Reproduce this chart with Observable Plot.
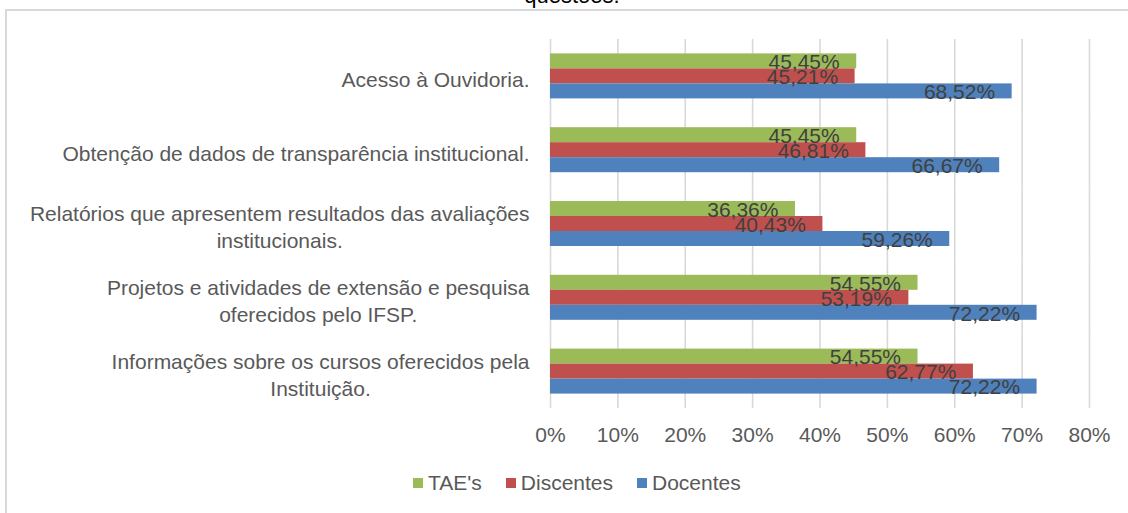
<!DOCTYPE html>
<html><head><meta charset="utf-8">
<script src="https://cdn.jsdelivr.net/npm/d3@7"></script>
<script src="https://cdn.jsdelivr.net/npm/@observablehq/plot@0.6"></script>
<style>
body{margin:0;background:#fff;}
#wrap{position:relative;width:1128px;height:513px;overflow:hidden;font-family:"Liberation Sans",Arial,sans-serif;background:#fff;}
#frame{position:absolute;left:5px;top:9px;width:1200px;height:600px;border:2px solid #D9D9D9;box-sizing:border-box;}
#title{position:absolute;left:0;width:1144px;top:-15px;text-align:center;font-size:22px;line-height:22px;color:#000;}
#chart{position:absolute;left:0;top:0;}
#legend{position:absolute;left:413px;top:472px;display:flex;align-items:center;font-size:21px;color:#595959;line-height:22px;}
.item{display:flex;align-items:center;margin-right:24px;}
.sw{width:10px;height:10px;margin-right:5px;}
</style></head>
<body>
<div id="wrap">
  <div id="frame"></div>
  <div id="title">questões.</div>
  <div id="chart"></div>
  <div id="legend"></div>
</div>
<script>
const categories = [
  "Acesso à Ouvidoria.",
  "Obtenção de dados de transparência institucional.",
  "Relatórios que apresentem resultados das avaliações institucionais.",
  "Projetos e atividades de extensão e pesquisa oferecidos pelo IFSP.",
  "Informações sobre os cursos oferecidos pela Instituição."
];
const categoryLabels = [
  "Acesso à Ouvidoria.",
  "Obtenção de dados de transparência institucional.",
  "Relatórios que apresentem resultados das avaliações\ninstitucionais.",
  "Projetos e atividades de extensão e pesquisa\noferecidos pelo IFSP.",
  "Informações sobre os cursos oferecidos pela\nInstituição."
];
const series = ["TAE's", "Discentes", "Docentes"];
const seriesColors = ["#9BBB59", "#C0504D", "#4F81BD"];
const taes = [45.45, 45.45, 36.36, 54.55, 54.55];
const discentes = [45.21, 46.81, 40.43, 53.19, 62.77];
const docentes = [68.52, 66.67, 59.26, 72.22, 72.22];
const xTicks = [0, 10, 20, 30, 40, 50, 60, 70, 80];

const valuesBySeries = [taes, discentes, docentes];
const rows = [];
categories.forEach((c, i) => {
  series.forEach((s, j) => rows.push({category: c, series: s, value: valuesBySeries[j][i]}));
});
const labelOf = Object.fromEntries(categories.map((c, i) => [c, categoryLabels[i]]));
const fmt = v => v.toFixed(2).replace(".", ",") + "%";

const plot = Plot.plot({
  width: 1128,
  height: 460,
  marginLeft: 550,
  marginRight: 39,
  marginTop: 39,
  marginBottom: 52,
  style: {fontFamily: "'Liberation Sans', Arial, sans-serif", fontSize: "21px", color: "#595959", background: "transparent", overflow: "visible"},
  x: {domain: [0, 80]},
  y: {domain: series, axis: null, round: false, padding: 0, paddingInner: 0, paddingOuter: 0.96},
  fy: {domain: categories, round: false, padding: 0, paddingInner: 0, paddingOuter: 0, axis: null},
  color: {domain: series, range: seriesColors},
  marks: [
    Plot.gridX(xTicks, {stroke: "#D9D9D9", strokeOpacity: 1, strokeWidth: 1.6}),
    Plot.barX(rows, {fy: "category", y: "series", x: "value", fill: "series"}),
    Plot.text(rows, {fy: "category", y: "series", x: "value", text: d => fmt(d.value), textAnchor: "end", dx: -17, dy: 1, fill: "#404040", fontSize: 21}),
    Plot.axisX({ticks: xTicks, tickSize: 0, tickPadding: 19, tickFormat: d => d + "%", label: null, fontSize: 21, fill: "#595959"}),
    Plot.text(categories, {fy: d => d, text: d => labelOf[d], frameAnchor: "left", textAnchor: "end", dx: -21, dy: 2, lineHeight: 1.3, fill: "#595959", fontSize: 21, ariaDescription: "category-label"})
  ]
});
document.getElementById("chart").appendChild(plot);

// center wrapped lines within each right-aligned label block
plot.querySelectorAll('g[aria-description="category-label"] text').forEach(t => {
  const spans = t.querySelectorAll("tspan");
  if (spans.length < 2) return;
  let w = 0;
  spans.forEach(s => { w = Math.max(w, s.getComputedTextLength()); });
  t.setAttribute("text-anchor", "middle");
  spans.forEach(s => s.setAttribute("x", -w / 2));
});

const legend = document.getElementById("legend");
series.forEach((s, i) => {
  const item = document.createElement("div");
  item.className = "item";
  const sw = document.createElement("div");
  sw.className = "sw";
  sw.style.background = seriesColors[i];
  const lab = document.createElement("span");
  lab.textContent = s;
  item.appendChild(sw);
  item.appendChild(lab);
  legend.appendChild(item);
});
</script>
</body></html>
